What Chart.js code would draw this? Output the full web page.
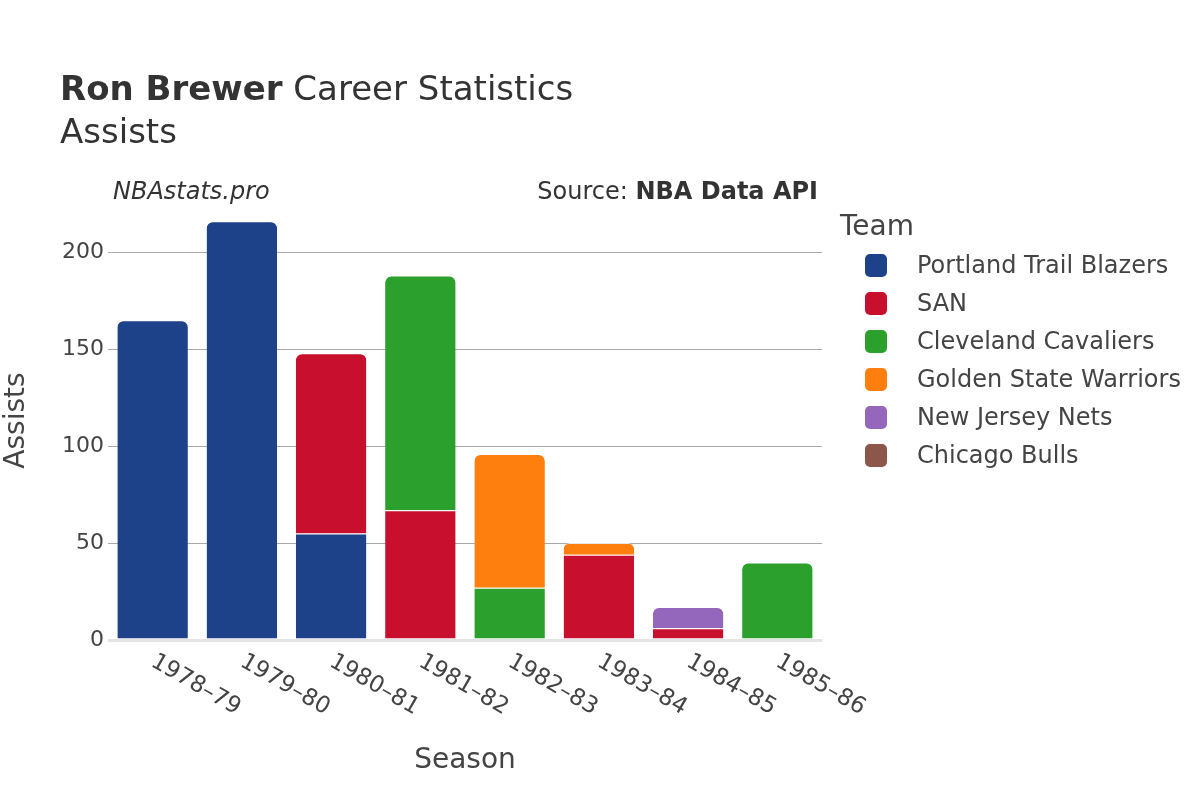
<!DOCTYPE html>
<html>
<head>
<meta charset="utf-8">
<script src="https://cdn.jsdelivr.net/npm/chart.js@4.4.1/dist/chart.umd.min.js"></script>
<style>
  body { margin: 0; background: #fff; }
  #wrap { position: relative; width: 1200px; height: 800px; font-family: 'DejaVu Sans', sans-serif; color: #333; }
  #wrap canvas { position: absolute; left: 0; top: 0; }
  .txt { position: absolute; white-space: nowrap; line-height: 1.2; }
  #legend .item { position: absolute; left: 865px; height: 24px; }
  #legend .box { position: absolute; left: 0; top: 0; width: 22px; height: 23px; border-radius: 5px; }
  #legend .name { position: absolute; left: 52px; top: -3px; font-size: 24px; line-height: 1.2; white-space: nowrap; color: #444; }
</style>
</head>
<body>
<div id="wrap">
  <canvas id="chart" width="1200" height="800"></canvas>
  <div class="txt" style="left:60px; top:68px; font-size:34px;"><b>Ron Brewer</b> Career Statistics</div>
  <div class="txt" style="left:60px; top:111px; font-size:34px;">Assists</div>
  <div class="txt" style="left:113px; top:177px; font-size:24px; font-style:italic;">NBAstats.pro</div>
  <div class="txt" style="right:382px; top:177px; font-size:24px;">Source: <b>NBA Data API</b></div>
  <div class="txt" style="left:840px; top:209px; font-size:28px; color:#444;">Team</div>
  <div id="legend"></div>
</div>
<script>
// Ron Brewer - assists per season, stacked by team

const seasons = ['1978–79', '1979–80', '1980–81', '1981–82',
    '1982–83', '1983–84', '1984–85', '1985–86'];

const teams = ['Portland Trail Blazers', 'SAN', 'Cleveland Cavaliers',
    'Golden State Warriors', 'New Jersey Nets', 'Chicago Bulls'];
const teamColors = ['#1d428a', '#c8102e', '#2ca02c', '#ff7f0e', '#9467bd', '#8c564b'];

const portland    = [165, 216, 55, null, null, null, null, null];
const san         = [null, null, 93, 67, null, 44, 6, null];
const cleveland   = [null, null, null, 121, 27, null, null, 40];
const goldenState = [null, null, null, null, 69, 6, null, null];
const newJersey   = [null, null, null, null, null, null, 11, null];
const chicago     = [null, null, null, null, null, null, null, 0];

const yTicks = [0, 50, 100, 150, 200];

const teamValues = [portland, san, cleveland, goldenState, newJersey, chicago];
const FONT = "'DejaVu Sans', sans-serif";

Chart.defaults.font.family = FONT;

// legend on the right, built from the team arrays
const legendEl = document.getElementById('legend');
teams.forEach((name, i) => {
    const item = document.createElement('div');
    item.className = 'item';
    item.style.top = (254 + i * 38) + 'px';
    item.innerHTML = `<div class="box" style="background:${teamColors[i]}"></div><div class="name">${name}</div>`;
    legendEl.appendChild(item);
});

// season labels slanted down to the right, like the original
const seasonLabels = {
    id: 'seasonLabels',
    afterDraw(chart) {
        const { ctx } = chart;
        const x = chart.scales.x;
        ctx.save();
        ctx.font = `23px ${FONT}`;
        ctx.fillStyle = '#444';
        ctx.textAlign = 'left';
        ctx.textBaseline = 'middle';
        seasons.forEach((s, i) => {
            const px = x.getPixelForValue(i);
            ctx.save();
            ctx.translate(px, 660);
            ctx.rotate(Math.PI / 6);
            ctx.fillText(s, 0, 0);
            ctx.restore();
        });
        ctx.restore();
    }
};

new Chart(document.getElementById('chart'), {
    type: 'bar',
    data: {
        labels: seasons,
        datasets: teams.map((name, i) => ({
            label: name,
            data: teamValues[i],
            backgroundColor: teamColors[i],
            borderColor: 'rgba(255,255,255,0.75)',
            borderWidth: { top: 1, left: 0, right: 0, bottom: 0 },
            borderRadius: 7,
            borderSkipped: 'start',
            categoryPercentage: 1,
            barPercentage: 0.79
        }))
    },
    options: {
        responsive: false,
        animation: false,
        devicePixelRatio: 1,
        layout: { padding: { top: 201, right: 378, bottom: 20, left: 0 } },
        plugins: {
            legend: { display: false },
            tooltip: { enabled: false }
        },
        scales: {
            x: {
                stacked: true,
                afterFit: s => { s.height = 140; },
                ticks: { display: false },
                grid: { display: false },
                border: { display: false },
                title: {
                    display: true,
                    text: 'Season',
                    color: '#444',
                    font: { size: 28 },
                    padding: { top: 0, bottom: 2 }
                }
            },
            y: {
                stacked: true,
                min: 0,
                max: 226.5,
                afterFit: s => { s.width = 108; },
                afterBuildTicks: s => { s.ticks = yTicks.map(v => ({ value: v })); },
                ticks: { color: '#444', font: { size: 22 }, padding: 4 },
                grid: {
                    drawTicks: false,
                    color: c => c.tick && c.tick.value === 0 ? '#e4e4e4' : '#aaaaaa',
                    lineWidth: c => c.tick && c.tick.value === 0 ? 3 : 1
                },
                border: { display: false },
                title: {
                    display: true,
                    text: 'Assists',
                    color: '#444',
                    font: { size: 28 },
                    padding: { top: 0, bottom: 0 }
                }
            }
        }
    },
    plugins: [seasonLabels]
});
</script>
</body>
</html>
